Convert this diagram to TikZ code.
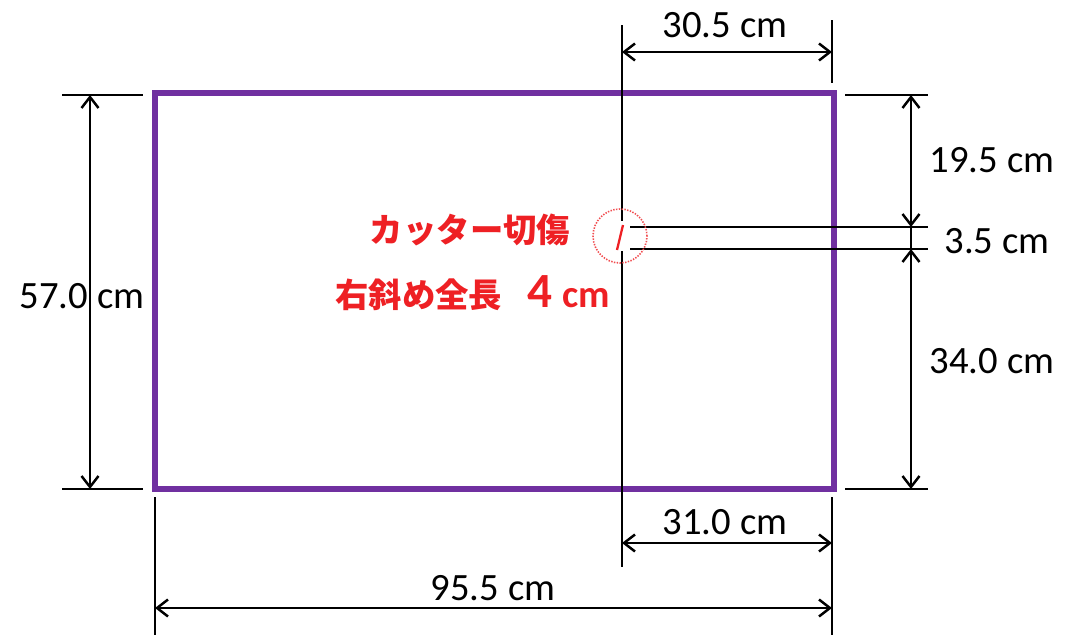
\documentclass[tikz,border=0pt]{standalone}
\usepackage{fontspec}
\setmainfont{Carlito}
\newfontfamily\jpfont{Noto Sans CJK JP}
\usepackage{tikz}
\usetikzlibrary{arrows.meta}
\usetikzlibrary{positioning}
\usepackage{xcolor}
\definecolor{boardpurple}{RGB}{112,48,160}
\definecolor{cutred}{RGB}{238,32,36}
\tikzset{
    dimline/.style={
        draw,
        {Straight Barb[length=2.2mm, width=3.4mm]}-{Straight Barb[length=2.2mm, width=3.4mm]},
        line width=1.4pt
    },
    extline/.style={
        draw,
        line width=0.9pt
    },
    dimlabel/.style={
        font=\fontsize{22}{26}\selectfont,
        inner sep=0pt
    }
}

\begin{document}
\begin{tikzpicture}[x=0.02cm, y=-0.02cm]
  \useasboundingbox (0,0) rectangle (1080,639);

  % Corners of the board
  \coordinate (tl) at (155,93);
  \coordinate (br) at (834,489);
  \draw[boardpurple, line width=3.8pt] (tl) rectangle (br);

  % Left dimension
  \coordinate (l1) at (62,95);   \coordinate (l2) at (143,95);
  \coordinate (l3) at (62,489);  \coordinate (l4) at (143,489);
  \coordinate (la) at (90,95);   \coordinate (lb) at (90,489);
  \draw[extline] (l1) -- (l2);
  \draw[extline] (l3) -- (l4);
  \draw[dimline] (la) -- (lb);
  \node[dimlabel] (height) at (82,296) {57.0 cm};

  % Vertical reference line through the cut
  \coordinate (v1) at (622,25);  \coordinate (v2) at (622,221);
  \coordinate (v3) at (622,251); \coordinate (v4) at (622,567);
  \draw[extline] (v1) -- (v2);
  \draw[extline] (v3) -- (v4);

  % Right edge extensions
  \coordinate (r1) at (832,20);  \coordinate (r2) at (832,83);
  \coordinate (r3) at (832,497); \coordinate (r4) at (832,635);
  \coordinate (b1) at (155,497); \coordinate (b2) at (155,635);
  \draw[extline] (r1) -- (r2);
  \draw[extline] (r3) -- (r4);
  \draw[extline] (b1) -- (b2);

  % Top dimension
  \coordinate (ta) at (622,52);  \coordinate (tb) at (832,52);
  \draw[dimline] (ta) -- (tb);
  \node[dimlabel] (topw) at (725,25) {30.5 cm};

  % Bottom dimensions
  \coordinate (ba) at (622,543); \coordinate (bb) at (832,543);
  \draw[dimline] (ba) -- (bb);
  \node[dimlabel] (botw) at (725,522) {31.0 cm};
  \coordinate (wa) at (155,608); \coordinate (wb) at (832,608);
  \draw[dimline] (wa) -- (wb);
  \node[dimlabel] (width) at (493,588) {95.5 cm};

  % Right dimensions
  \coordinate (h1) at (845,95);  \coordinate (h2) at (928,95);
  \coordinate (h3) at (630,227); \coordinate (h4) at (928,227);
  \coordinate (h5) at (630,249); \coordinate (h6) at (928,249);
  \coordinate (h7) at (845,489); \coordinate (h8) at (928,489);
  \draw[extline] (h1) -- (h2);
  \draw[extline] (h3) -- (h4);
  \draw[extline] (h5) -- (h6);
  \draw[extline] (h7) -- (h8);
  \coordinate (ra) at (911,95);  \coordinate (rb) at (911,227);
  \coordinate (rc) at (911,249); \coordinate (rd) at (911,489);
  \draw[dimline] (ra) -- (rb);
  \draw[extline] (rb) -- (rc);
  \draw[dimline] (rc) -- (rd);
  \node[dimlabel] (upper) at (992,160) {19.5 cm};
  \node[dimlabel] (gap) at (997,241) {3.5 cm};
  \node[dimlabel] (lower) at (992,361) {34.0 cm};

  % Cut mark
  \node[draw=cutred!80, dash pattern=on 0.8pt off 0.8pt, line width=0.9pt, circle, minimum size=1.08cm] (cut) at (620,236) {};
  \coordinate (c1) at (617,250); \coordinate (c2) at (623,225);
  \draw[cutred, line width=1.3pt] (c1) -- (c2);

  % Red notes
  \node[text=cutred, font=\jpfont\bfseries\fontsize{19}{22}\selectfont, inner sep=0pt] (note1) at (470,230) {カッター切傷};
  \node[text=cutred, inner sep=0pt, anchor=base west] (note2) at (335,307)
    {\jpfont\bfseries\fontsize{19}{22}\selectfont 右斜め全長\hspace{0.75em}{\rmfamily\fontsize{28}{30}\selectfont 4}\hspace{0.3em}{\rmfamily\fontsize{22}{24}\selectfont cm}};
\end{tikzpicture}
\end{document}
